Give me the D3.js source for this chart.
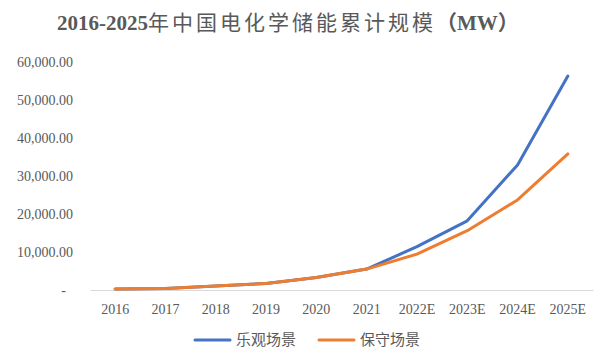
<!DOCTYPE html>
<html>
<head>
<meta charset="utf-8">
<script src="https://cdn.jsdelivr.net/npm/d3@7"></script>
<style>
  body { margin: 0; background: #fff; }
  text { font-family: "Liberation Serif", "Noto Sans CJK SC", serif; fill: #595959; }
</style>
</head>
<body>
<svg width="606" height="364"></svg>
<script>
// Data
var years = ["2016", "2017", "2018", "2019", "2020", "2021", "2022E", "2023E", "2024E", "2025E"];
var optimistic = [243, 390, 1072, 1710, 3269, 5500, 11400, 18200, 32900, 56300];
var conservative = [243, 390, 1072, 1710, 3269, 5500, 9450, 15600, 23700, 35800];
var yTicks = [0, 10000, 20000, 30000, 40000, 50000, 60000];
var seriesNames = ["乐观场景", "保守场景"];
var colors = ["#4472C4", "#ED7D31"];

var svg = d3.select("svg");
var plotLeft = 90, plotRight = 593, plotTop = 62, plotBottom = 290;

var x = d3.scaleBand().domain(years).range([plotLeft, plotRight]);
var y = d3.scaleLinear().domain([0, 60000]).range([plotBottom, plotTop]);

// Title
var title = svg.append("text")
  .attr("x", 57).attr("y", 30)
  .style("font-size", "21px")
  .style("font-weight", "bold");
title.append("tspan").text("2016-2025");
title.append("tspan").style("letter-spacing", "3px").style("font-weight", "normal").text("年中国电化学储能累计规模");
title.append("tspan").text("（MW）");

// Y axis labels
var fmt = d3.format(",.2f");
svg.selectAll(".ylab")
  .data(yTicks)
  .enter().append("text")
  .attr("class", "ylab")
  .attr("x", function(d) { return d === 0 ? 66 : 73; })
  .attr("y", function(d) { return y(d) + 5; })
  .attr("text-anchor", "end")
  .style("font-size", "14px")
  .text(function(d) { return d === 0 ? "-" : fmt(d); });

// X axis
var xAxis = svg.append("g")
  .attr("transform", "translate(0," + plotBottom + ")")
  .call(d3.axisBottom(x).tickSize(0).tickPadding(14));
xAxis.select(".domain").attr("stroke", "#d9d9d9").attr("stroke-width", 1);
xAxis.selectAll("text")
  .style("font-size", "14px")
  .style("font-family", "Liberation Serif, serif")
  .attr("fill", "#595959");

// Lines
var line = d3.line()
  .x(function(d, i) { return x(years[i]) + x.bandwidth() / 2; })
  .y(function(d) { return y(d); });

[optimistic, conservative].forEach(function(s, i) {
  svg.append("path")
    .datum(s)
    .attr("fill", "none")
    .attr("stroke", colors[i])
    .attr("stroke-width", 3)
    .attr("stroke-linejoin", "round")
    .attr("stroke-linecap", "round")
    .attr("d", line);
});

// Legend
var legendX = [195, 319];
seriesNames.forEach(function(name, i) {
  var g = svg.append("g").attr("transform", "translate(" + legendX[i] + ",340)");
  g.append("line")
    .attr("x1", 0).attr("x2", 35)
    .attr("stroke", colors[i]).attr("stroke-width", 3)
    .attr("stroke-linecap", "round");
  g.append("text")
    .attr("x", 41).attr("y", 5)
    .style("font-size", "15px")
    .text(name);
});
</script>
</body>
</html>
